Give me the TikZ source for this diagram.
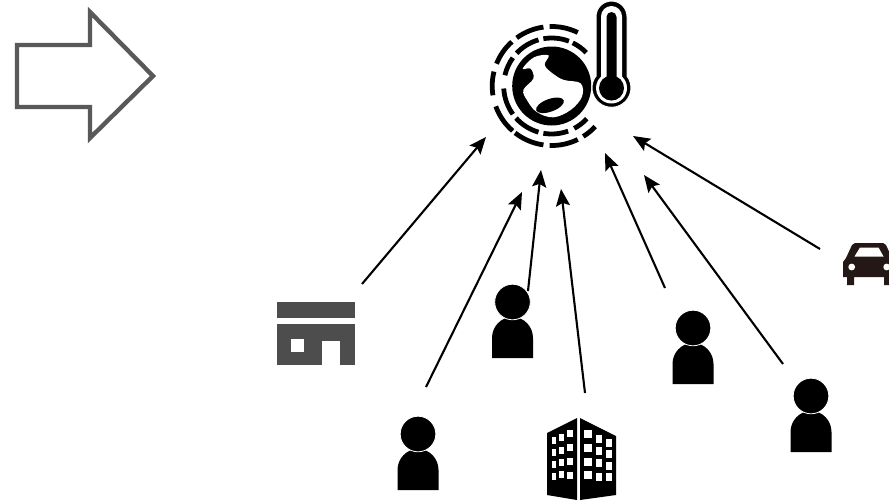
\documentclass[tikz,border=0pt]{standalone}
\usepackage{xcolor}
\usetikzlibrary{arrows.meta}
\definecolor{darkgrey}{HTML}{4D4D4D}
\definecolor{outlinegrey}{HTML}{595959}
\definecolor{carblack}{HTML}{231815}

\begin{document}
\begin{tikzpicture}[x=1pt, y=-1pt,
    arrow/.style={draw, line width=2.1pt, -{Stealth[length=17pt, width=14pt, inset=3pt]}},
    ringseg/.style={line width=4.8pt, black},
    person/.pic={
        \fill[black] (-20.5,56) -- (-20.5,36) .. controls (-20.5,25) and (-12,15) .. (0,15) .. controls (12,15) and (20.5,25) .. (20.5,36) -- (20.5,56) -- cycle;
        \filldraw[black, draw=white, line width=0.8pt] (0,0) circle (17.8pt);
    }
]
    \useasboundingbox (0,0) rectangle (889,501);

    % big outline arrow
    \draw[outlinegrey, line width=4.4pt, miter limit=10] (17,45) -- (90,45) -- (90,12) -- (153,76) -- (90,138) -- (90,107) -- (17,107) -- cycle;

    % globe
    \fill[black] (551.7,86) circle (39.5pt);
    \begin{scope}[shift={(470,0)}, x=0.3333pt, y=-0.3333pt]
        \fill[white] plot[smooth cycle, tension=0.6] coordinates {(192,172) (236,166) (224,195) (250,222) (282,240) (332,250) (336,290) (302,330) (250,352) (200,336) (172,302) (160,270) (190,236) (182,206) (158,206)};
        \fill[black, rotate around={20:(240,316)}] (240,316) ellipse (44 and 19);
    \end{scope}
    \begin{scope}[shift={(551.7,86)}, y=1pt]
        \foreach \a/\b in {64/92, 98/126, 132/158, 166/189, 200/229, 232/262, 268/296, 302/317}
            \draw[ringseg] (\a:59.5) arc[start angle=\a, end angle=\b, radius=59.5];
        \foreach \a/\b in {69/100, 44/64, 106/137, 144/167, 183/216, 222/254, 260/290, 298/317}
            \draw[ringseg] (\a:48) arc[start angle=\a, end angle=\b, radius=48];
    \end{scope}

    % thermometer
    \begin{scope}[shift={(611.5,88)}, y=1pt]
        \filldraw[black, draw=white, line width=1pt] (-15.5,12) -- (-15.5,71.5) arc[start angle=180, end angle=0, radius=15.5] -- (15.5,12) arc[start angle=37.3, end angle=-217.3, radius=19.5] -- cycle;
        \fill[white] (-10.5,11.4) -- (-10.5,71.5) arc[start angle=180, end angle=0, radius=10.5] -- (10.5,11.4) arc[start angle=47.3, end angle=-227.3, radius=15.5] -- cycle;
        \fill[black] (-5,11.4) -- (-5,71) arc[start angle=180, end angle=0, radius=5] -- (5,11.4) arc[start angle=66.4, end angle=-246.4, radius=12.5] -- cycle;
    \end{scope}

    % shop
    \fill[darkgrey] (277,302) rectangle (355,318);
    \fill[darkgrey] (277,324) rectangle (355,365);
    \fill[white] (291,339) rectangle (304,352);
    \fill[white] (322,341) rectangle (340,365);

    % office
    \fill[black] (547,433) -- (577,418) -- (577,500) -- (547,495) -- cycle;
    \fill[black] (580,418) -- (616,436) -- (616,495) -- (580,500) -- cycle;
    \foreach \x/\w/\ya/\yb/\yc/\yd in {553.7/4/440.7/452.7/464.3/476, 561.3/4.7/437.7/450/462/474.5, 570/5.3/433.3/447.7/461.7/475}
        \foreach \y in {\ya,\yb,\yc,\yd}
            \fill[white] (\x-\w/2,\y-3.5) rectangle (\x+\w/2,\y+3.5);
    \foreach \x/\w/\ya/\yb/\yc/\yd in {587.7/8/434.3/447.7/461.7/475, 599/6.7/439/451/463.3/476.7, 609/5.3/442.7/454/465.7/477.3}
        \foreach \y in {\ya,\yb,\yc,\yd}
            \fill[white] (\x-\w/2,\y-4) rectangle (\x+\w/2,\y+4);

    % car
    \fill[carblack] (847,285) -- (847,277) -- (843,277) -- (843,262) -- (846,258) -- (852,245) -- (855,243) -- (883,243) -- (886,245) -- (892,258) -- (895,262) -- (895,277) -- (891,277) -- (891,285) -- (884,285) -- (884,277) -- (854,277) -- (854,285) -- cycle;
    \fill[white] (854.5,256.5) -- (860,247.5) -- (878.5,247.5) -- (883.5,256.5) -- cycle;
    \fill[white] (851.7,267) circle (3.4pt);
    \fill[white] (886.7,267) circle (3.4pt);

    % people
    \pic at (512.5,302) {person};
    \pic at (693,328) {person};
    \pic at (418,434) {person};
    \pic at (811,396) {person};

    \coordinate (shopOut) at (362,284);
    \coordinate (personLeftOut) at (426,387);
    \coordinate (personMidOut) at (528,291);
    \coordinate (officeOut) at (585,393);
    \coordinate (personRightOut) at (665,288);
    \coordinate (personFarOut) at (783,364);
    \coordinate (carOut) at (820,249);
    \coordinate (globeInA) at (486,137);
    \coordinate (globeInB) at (522,192);
    \coordinate (globeInC) at (541,170);
    \coordinate (globeInD) at (561,189);
    \coordinate (globeInE) at (605,153);
    \coordinate (globeInF) at (644,175);
    \coordinate (globeInG) at (633,136);

    \draw[arrow] (shopOut) -- (globeInA);
    \draw[arrow] (personLeftOut) -- (globeInB);
    \draw[arrow] (personMidOut) -- (globeInC);
    \draw[arrow] (officeOut) -- (globeInD);
    \draw[arrow] (personRightOut) -- (globeInE);
    \draw[arrow] (personFarOut) -- (globeInF);
    \draw[arrow] (carOut) -- (globeInG);
\end{tikzpicture}
\end{document}
